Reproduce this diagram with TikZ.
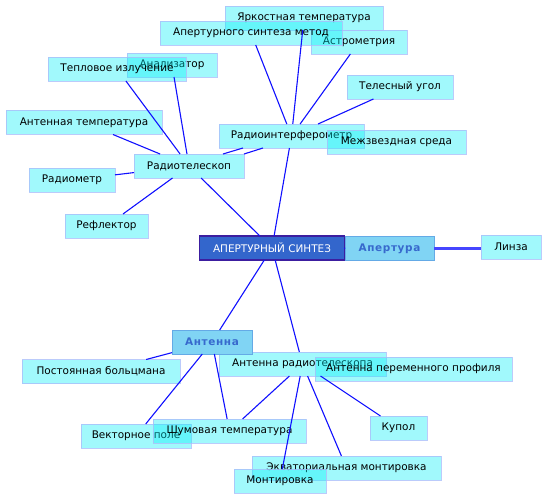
\documentclass[tikz,border=0pt]{standalone}
\usepackage{fontspec}
\setmainfont{DejaVu Sans}
\definecolor{boxfill}{RGB}{0,240,248}
\definecolor{boxline}{RGB}{170,190,250}
\definecolor{edgecol}{RGB}{16,16,255}
\definecolor{linkcol}{RGB}{70,70,255}
\definecolor{mainfill}{RGB}{51,102,204}
\definecolor{mainline}{RGB}{60,30,160}
\definecolor{subfill}{RGB}{128,212,244}
\definecolor{subline}{RGB}{100,170,230}
\definecolor{subtext}{RGB}{55,105,205}
\begin{document}
\begin{tikzpicture}[x=1bp,y=-1bp,
  every node/.style={font=\fontsize{10.5}{12}\selectfont},
  box/.style={rectangle, inner sep=0pt, outer sep=0pt, minimum height=24bp,
    fill=boxfill, fill opacity=0.37, text opacity=1,
    draw=boxline, draw opacity=0.8, line width=0.8bp},
  mainbox/.style={rectangle, inner sep=0pt, outer sep=0pt, minimum height=24bp,
    fill=mainfill, draw=mainline, line width=1.4bp, text=white},
  subbox/.style={rectangle, inner sep=0pt, outer sep=0pt, minimum height=24bp,
    fill=subfill, draw=subline, line width=0.9bp, text=subtext,
    font=\fontsize{10.5}{12}\selectfont\bfseries\addfontfeature{LetterSpace=6}},
  edge/.style={draw=edgecol, line width=1.1bp},
  link/.style={draw=linkcol, line width=2.2bp}]
\fill[white] (0,0) rectangle (547,500);
\useasboundingbox (0,0) rectangle (547,500);

% nodes
\node[box, minimum width=96bp]  (astro) at (359,42)   {Астрометрия};
\node[box, minimum width=158bp] (yark)  at (304,18)   {Яркостная температура};
\node[box, minimum width=182bp] (apmet) at (251,33)   {Апертурного синтеза метод};
\node[box, minimum width=90bp]  (anal)  at (172,65)   {Анализатор};
\node[box, minimum width=138bp] (tepl)  at (117,69)   {Тепловое излучение};
\node[box, minimum width=106bp] (teles) at (400,87)   {Телесный угол};
\node[box, minimum width=156bp] (antt)  at (84,122.5) {Антенная температура};
\node[box, minimum width=145bp] (rint)  at (291.5,136) {Радиоинтерферометр};
\node[box, minimum width=139bp] (mezh)  at (396.5,142) {Межзвездная среда};
\node[box, minimum width=110bp] (rtel)  at (189,166)  {Радиотелескоп};
\node[box, minimum width=86bp]  (rmet)  at (72,180)   {Радиометр};
\node[box, minimum width=83bp]  (refl)  at (106.5,226) {Рефлектор};
\node[mainbox, minimum width=145bp] (main) at (272,248) {АПЕРТУРНЫЙ СИНТЕЗ};
\node[subbox, minimum width=89bp] (apert) at (389.5,248.5) {Апертура};
\node[box, minimum width=60bp]  (linza) at (511,247) {Линза};
\node[box, minimum width=167bp] (antrt) at (302.5,364) {Антенна радиотелескопа};
\node[subbox, minimum width=80bp] (ant)  at (212,342)  {Антенна};
\node[box, minimum width=197bp] (antpp) at (413.5,369) {Антенна переменного профиля};
\node[box, minimum width=158bp] (post)  at (101,371.5) {Постоянная больцмана};
\node[box, minimum width=57bp]  (kupol) at (398.5,428) {Купол};
\node[box, minimum width=110bp] (vekt)  at (136,436)  {Векторное поле};
\node[box, minimum width=153bp] (shum)  at (229.5,431) {Шумовая температура};
\node[box, minimum width=189bp] (ekv)   at (346.5,468) {Экваториальная монтировка};
\node[box, minimum width=92bp]  (mont)  at (280,481)  {Монтировка};

% connectors
\draw[edge] (rtel) -- (main);
\draw[edge] (rint) -- (main);
\draw[edge] ([shift={(-48.5,12)}]rint.center) -- ([shift={(34,-12)}]rtel.center);
\draw[edge] ([shift={(-28.5,12)}]rint.center) -- ([shift={(55,-12)}]rtel.center);
\draw[edge] (antt) -- (rtel);
\draw[edge] (tepl) -- (rtel);
\draw[edge] (anal) -- (rtel);
\draw[edge] (rmet) -- (rtel);
\draw[edge] (refl) -- (rtel);
\draw[edge] (apmet) -- (rint);
\draw[edge] (yark) -- (rint);
\draw[edge] (astro) -- (rint);
\draw[edge] (teles) -- (rint);
\draw[edge] (main.east) -- (apert.west);
\draw[link] (apert.east) -- (apert.east -| linza.west);
\draw[edge] (main) -- (ant);
\draw[edge] (main) -- (antrt);
\draw[edge] (ant) -- (post);
\draw[edge] (ant) -- (vekt);
\draw[edge] (ant) -- (shum);
\draw[edge] (antrt) -- (shum);
\draw[edge] (antrt) -- (mont);
\draw[edge] (antrt) -- (ekv);
\draw[edge] (antrt) -- (kupol);
\end{tikzpicture}
\end{document}
